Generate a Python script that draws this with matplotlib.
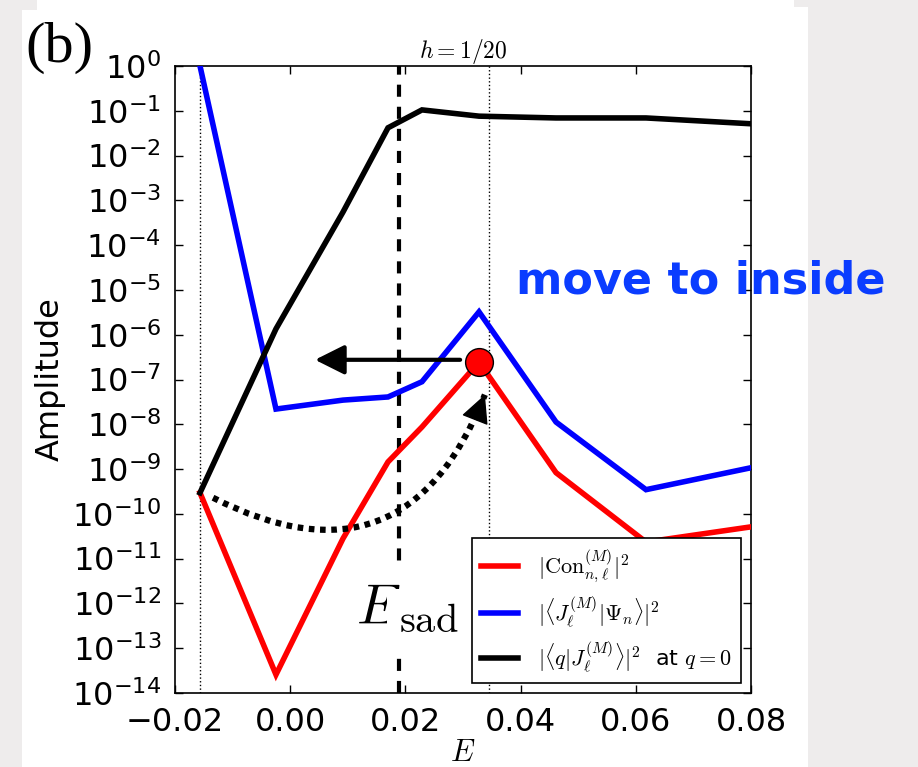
import numpy as np
import matplotlib
matplotlib.use("Agg")
import matplotlib.pyplot as plt
from matplotlib.patches import Rectangle, FancyArrowPatch
from matplotlib.ticker import FixedLocator, NullLocator

plt.rcParams['mathtext.fontset'] = 'cm'
plt.rcParams['font.family'] = ['DejaVu Sans']

# Energy grid and amplitudes (log10 values)
E = [-0.01566, -0.00247, 0.00917, 0.01698, 0.02288, 0.03278, 0.04615, 0.06177, 0.0800]
log_con = [-9.53, -13.59, -10.55, -8.84, -8.06, -6.61, -9.08, -10.63, -10.29]
log_psi = [0.0, -7.66, -7.46, -7.39, -7.05, -5.49, -7.95, -9.46, -8.97]
log_q0 = [-9.53, -5.87, -3.26, -1.38, -0.98, -1.12, -1.16, -1.16, -1.29]

amp_con = [10 ** v for v in log_con]
amp_psi = [10 ** v for v in log_psi]
amp_q0 = [10 ** v for v in log_q0]

labels = [r'$|\mathrm{Con}_{n,\ell}^{(M)}|^2$',
          r'$|\langle J_{\ell}^{(M)}|\Psi_n\rangle|^2$',
          r'$|\langle q|J_{\ell}^{(M)}\rangle|^2$  at $q=0$']
colors = ['#ff0000', '#0000ff', '#000000']

E_left, E_right = -0.01566, 0.0345     # dotted guides
E_sad = 0.0189                          # saddle energy
dot_E, dot_amp = 0.0328, 10 ** -6.61    # highlighted state
arrow_tail_E, arrow_tip_E, arrow_amp = 0.0295, 0.0043, 10 ** -6.56
curve_start = (-0.0134, 10 ** -9.64)
curve_end = (0.0338, 10 ** -7.34)
curve_rad = 0.55

x_ticks = [-0.02, 0.00, 0.02, 0.04, 0.06, 0.08]
y_exps = list(range(-14, 1))

W, H = 918, 767
fig = plt.figure(figsize=(W / 100, H / 100), dpi=100)
fig.patch.set_facecolor('#eeecec')
fig.add_artist(Rectangle((22 / W, 0), 786 / W, 1, transform=fig.transFigure,
                         facecolor='white', edgecolor='none', zorder=-10))
fig.add_artist(Rectangle((0, 1 - 10 / H), 37 / W, 10 / H, transform=fig.transFigure,
                         facecolor='#eeecec', edgecolor='none', zorder=-9))
fig.add_artist(Rectangle((794 / W, 1 - 7 / H), 124 / W, 7 / H, transform=fig.transFigure,
                         facecolor='#eeecec', edgecolor='none', zorder=-9))

ax = fig.add_axes([175 / W, (H - 693) / H, 576 / W, 627 / H])
ax.set_facecolor('white')
ax.set_yscale('log')
ax.set_xlim(-0.02, 0.08)
ax.set_ylim(1e-14, 1)

for y, c, lab in zip([amp_con, amp_psi, amp_q0], colors, labels):
    ax.plot(E, y, color=c, lw=4, label=lab, solid_joinstyle='miter', zorder=3)

ax.axvline(E_left, color='k', ls=':', lw=1, zorder=1)
ax.axvline(E_right, color='k', ls=':', lw=1, zorder=1)
ax.axvline(E_sad, color='k', lw=3, dashes=(2.9, 2.4), zorder=2)

ax.plot([dot_E], [dot_amp], 'o', ms=20, mfc='red', mec='k', mew=1, zorder=6)

ax.annotate('', xy=(arrow_tip_E, arrow_amp), xytext=(arrow_tail_E, arrow_amp),
            arrowprops=dict(arrowstyle='-|>', lw=3, color='k', mutation_scale=45,
                            shrinkA=0, shrinkB=0), zorder=5)

# dotted curved path with a solid head along its end tangent
curve = FancyArrowPatch(curve_start, curve_end, connectionstyle='arc3,rad=%g' % curve_rad,
                        arrowstyle='-', lw=4.5, linestyle=(0, (0.9, 0.9)), color='k',
                        shrinkA=0, shrinkB=0, capstyle='butt', zorder=5)
ax.add_patch(curve)
p1 = ax.transData.transform(curve_start)
p2 = ax.transData.transform(curve_end)
d = p2 - p1
ctrl = (p1 + p2) / 2 + curve_rad * np.array([d[1], -d[0]])
tan = p2 - ctrl
tan = tan / np.hypot(*tan)
head_pts = 18
ax.annotate('', xy=curve_end, xytext=(-tan[0] * head_pts, -tan[1] * head_pts),
            textcoords='offset points',
            arrowprops=dict(arrowstyle='-|>', lw=1, color='k', mutation_scale=45,
                            shrinkA=0, shrinkB=0), zorder=5)

# saddle label with a white box over the dashed line
t_E = ax.text(0.0114, 10 ** -12.45, r'$E$', fontsize=40, va='baseline', ha='left',
              bbox=dict(boxstyle='square,pad=0.3', fc='white', ec='none'), zorder=4)
ax.annotate(r'$\mathrm{sad}$', xy=(1.0, 0.0), xycoords=t_E, fontsize=29,
            va='bottom', ha='left', xytext=(-1, -4), textcoords='offset points',
            bbox=dict(boxstyle='square,pad=0.3', fc='white', ec='none'), zorder=4)

ax.xaxis.set_major_locator(FixedLocator(x_ticks))
ax.yaxis.set_major_locator(FixedLocator([10.0 ** e for e in y_exps]))
ax.yaxis.set_minor_locator(NullLocator())
ax.set_yticklabels([r'$\mathdefault{10^{%d}}$' % e for e in y_exps])
ax.tick_params(which='both', direction='in', top=True, right=True, length=6,
               width=1, labelsize=23, pad=10)
for s in ax.spines.values():
    s.set_linewidth(1.2)

ax.set_ylabel('Amplitude', fontsize=23)
ax.yaxis.set_label_coords(-0.19, 0.5)
ax.set_xlabel(r'$E$', fontsize=22, labelpad=0)
ax.set_title(r'$h=1/20$', fontsize=17, pad=6)

leg = ax.legend(loc='lower right', fontsize=16, handlelength=1.7, fancybox=False,
                framealpha=1, edgecolor='k', borderaxespad=0.45, labelspacing=0.45,
                handletextpad=0.9)
leg.get_frame().set_linewidth(1.2)
leg.set_zorder(7)

fig.text(25 / W, 1 - 62 / H, '(b)', fontsize=42, family='Liberation Serif',
         va='baseline', ha='left')
fig.text(516 / W, 1 - 293 / H, 'move to inside', fontsize=32, fontweight='bold',
         color='#0a3cff', va='baseline', ha='left', family='DejaVu Sans', zorder=10)

fig.savefig('out.png', dpi=100, facecolor=fig.get_facecolor())
